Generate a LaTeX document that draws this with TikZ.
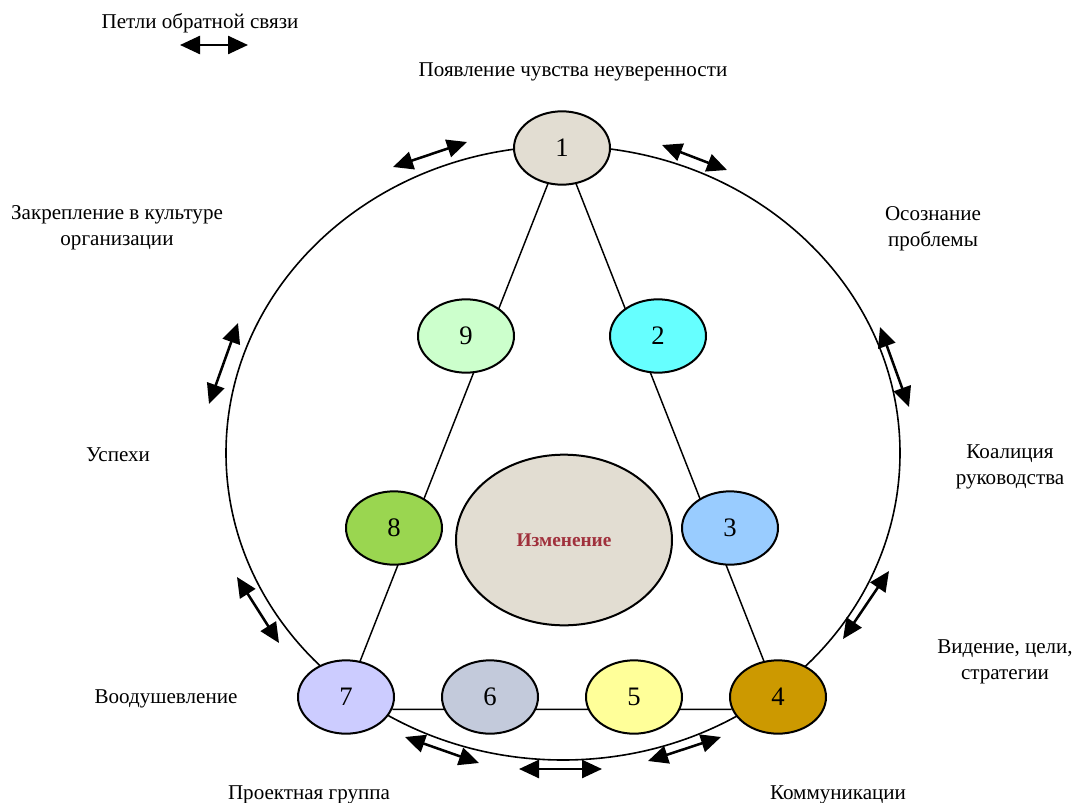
\documentclass[tikz,border=0pt]{standalone}
\usepackage{fontspec}
\setmainfont{Liberation Serif}
\usetikzlibrary{shapes.geometric,arrows.meta,backgrounds}
\definecolor{bex}{HTML}{E2DDD2}
\definecolor{cyx}{HTML}{66FFFF}
\definecolor{blx}{HTML}{99CCFF}
\definecolor{gox}{HTML}{CC9900}
\definecolor{yex}{HTML}{FFFF99}
\definecolor{gbx}{HTML}{C3CADB}
\definecolor{lvx}{HTML}{CCCCFF}
\definecolor{grx}{HTML}{9AD650}
\definecolor{lgx}{HTML}{CCFFCC}
\definecolor{rex}{HTML}{A0303C}

\begin{document}
\begin{tikzpicture}[x=0.75pt,y=-0.75pt,
    stage/.style={ellipse,draw,line width=1.5pt,minimum width=72pt,minimum height=55pt,inner sep=0pt,
        font=\fontsize{20}{22}\selectfont},
    lbl/.style={align=center,font=\fontsize{15.8}{19.5}\selectfont},
    fbloop/.style={{Triangle[length=15pt,width=13.5pt]}-{Triangle[length=15pt,width=13.5pt]},line width=1.9pt}]
    \useasboundingbox (0,0) rectangle (1075,803);

    % stages round the loop
    \node [stage,fill=bex] (n1) at (562,148) {1};
    \node [stage,fill=cyx] (n2) at (658,336) {2};
    \node [stage,fill=blx] (n3) at (730,528) {3};
    \node [stage,fill=gox] (n4) at (778,697) {4};
    \node [stage,fill=yex] (n5) at (634,697) {5};
    \node [stage,fill=gbx] (n6) at (490,697) {6};
    \node [stage,fill=lvx] (n7) at (346,697) {7};
    \node [stage,fill=grx] (n8) at (394,528) {8};
    \node [stage,fill=lgx] (n9) at (466,336) {9};
    \node [ellipse,draw,line width=1.5pt,fill=bex,minimum width=162pt,minimum height=128pt,
        text=rex,font=\fontsize{14.5}{17}\selectfont\bfseries] (chg) at (564,540) {Изменение};

    \begin{scope}[on background layer]
        \draw [line width=1.2pt] (563,453) ellipse [x radius=337,y radius=307];
        \draw [line width=1.1pt]
            (n1.center) -- (n7.center)
            (n1.center) -- (n4.center)
            (n7.-15) -- (n4.195)
        ;
    \end{scope}

    % feedback loops
    \draw [fbloop] (180,45) -- (248,45);
    \draw [fbloop] (393,167) -- (467,142);
    \draw [fbloop] (662,145) -- (727,170);
    \draw [fbloop] (238,323) -- (209,404);
    \draw [fbloop] (880,327) -- (909,407);
    \draw [fbloop] (237,577) -- (279,643);
    \draw [fbloop] (889,571) -- (843,639);
    \draw [fbloop] (405,737) -- (479,763);
    \draw [fbloop] (519,769) -- (602,769);
    \draw [fbloop] (648,761) -- (721,737);

    \node [lbl] (fb) at (200,23) {Петли обратной связи};
    \node [lbl] (l1) at (573,72) {Появление чувства неуверенности};
    \node [lbl] (l2) at (933,229) {Осознание\\проблемы};
    \node [lbl] (l3) at (1010,467) {Коалиция\\руководства};
    \node [lbl] (l4) at (1005,662) {Видение, цели,\\стратегии};
    \node [lbl] (l5) at (838,795) {Коммуникации};
    \node [lbl] (l6) at (309,795) {Проектная группа};
    \node [lbl] (l7) at (166,699) {Воодушевление};
    \node [lbl] (l8) at (118,455) {Успехи};
    \node [lbl] (l9) at (117,228) {Закрепление в культуре\\организации};
\end{tikzpicture}
\end{document}
